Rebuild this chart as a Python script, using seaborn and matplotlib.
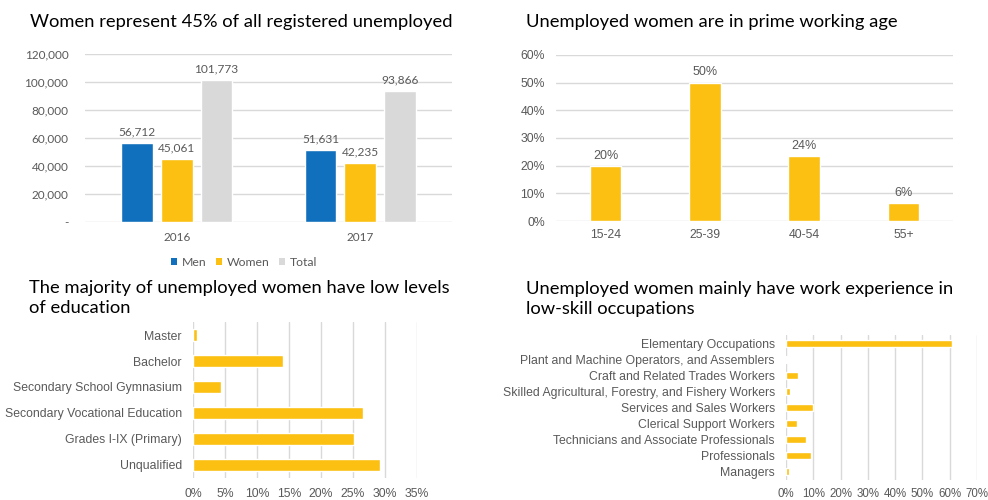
import matplotlib
matplotlib.use("Agg")
import matplotlib.pyplot as plt
import seaborn as sns
import pandas as pd
from matplotlib.patches import Patch
from matplotlib.ticker import FuncFormatter, MultipleLocator

# ---------------- data ----------------
years = ["2016", "2017"]
groups = ["Men", "Women", "Total"]
men = [56712, 51631]
women = [45061, 42235]
total = [101773, 93866]

age_groups = ["15-24", "25-39", "40-54", "55+"]
age_share = [19.9, 50.0, 23.6, 6.4]

edu_levels = ["Master", "Bachelor", "Secondary School Gymnasium",
              "Secondary Vocational Education", "Grades I-IX (Primary)", "Unqualified"]
edu_share = [0.7, 14.0, 4.4, 26.6, 25.1, 29.2]

occupations = ["Elementary Occupations", "Plant and Machine Operators, and Assemblers",
               "Craft and Related Trades Workers",
               "Skilled Agricultural, Forestry, and Fishery Workers",
               "Services and Sales Workers", "Clerical Support Workers",
               "Technicians and Associate Professionals", "Professionals", "Managers"]
occ_share = [60.8, 0.5, 4.5, 1.3, 9.9, 4.1, 7.5, 9.2, 1.2]

# ---------------- style ----------------
sns.set_style("white")
plt.rcParams['font.family'] = ['Liberation Sans', 'DejaVu Sans']
BLUE = "#1170BD"
GOLD = "#FCC012"
GREY = "#D9D9D9"
TXT = "#595959"
GRID = "#D9D9D9"
TITLE_FONT = ['Lato', 'DejaVu Sans']
CAL = ['Lato', 'DejaVu Sans']
TSIZE = 13.2

W, H = 988, 500
fig = plt.figure(figsize=(W / 100, H / 100), dpi=100)

def axes_px(l, t, r, b):
    return fig.add_axes([l / W, 1 - b / H, (r - l) / W, (b - t) / H])

def clean(ax):
    for s in ax.spines.values():
        s.set_visible(False)
    ax.tick_params(length=0, colors=TXT)
    ax.set_xlabel("")
    ax.set_ylabel("")

# ---------------- panel 1 ----------------
ax1 = axes_px(85, 54, 452, 222)
df1 = pd.DataFrame({
    "year": years * 3,
    "group": [g for g in groups for _ in years],
    "value": men + women + total,
})
sns.barplot(data=df1, x="year", y="value", hue="group", hue_order=groups,
            palette=[BLUE, GOLD, GREY], width=0.65, gap=0.2, legend=False,
            ax=ax1, saturation=1, zorder=3)
ax1.set_ylim(0, 120000)
ax1.set_xlim(-0.5, 1.5)
ax1.yaxis.set_major_locator(MultipleLocator(20000))
ax1.yaxis.set_major_formatter(FuncFormatter(lambda v, p: "-" if v == 0 else f"{v:,.0f}"))
ax1.grid(axis="y", color=GRID, lw=1, zorder=0)
clean(ax1)
ax1.tick_params(axis="y", pad=12)
ax1.tick_params(axis="x", pad=7)
for lab in ax1.get_xticklabels() + ax1.get_yticklabels():
    lab.set_family(CAL)
    lab.set_fontsize(8.5)
for c in ax1.containers:
    ax1.bar_label(c, labels=[f"{v:,.0f}" for v in c.datavalues], padding=4,
                  fontsize=8.6, color=TXT, family=CAL)
handles = [Patch(facecolor=c, edgecolor="none") for c in [BLUE, GOLD, GREY]]
fig.legend(handles, groups, loc="center", bbox_to_anchor=(244 / W, 1 - 262 / H),
           ncol=3, frameon=False, handlelength=0.5, handleheight=0.5,
           handletextpad=0.35, columnspacing=0.8, labelcolor=TXT,
           prop={'family': CAL, 'size': 8.8})
fig.text(30 / W, 1 - 22 / H, "Women represent 45% of all registered unemployed",
         fontsize=TSIZE, family=TITLE_FONT, va="center", ha="left", color="#000000")

# ---------------- panel 2 ----------------
ax2 = axes_px(556, 55, 953, 221)
sns.barplot(x=age_groups, y=age_share, color=GOLD, saturation=1, width=0.315,
            ax=ax2, zorder=3)
ax2.set_ylim(0, 60)
ax2.set_xlim(-0.5, 3.5)
ax2.yaxis.set_major_locator(MultipleLocator(10))
ax2.yaxis.set_major_formatter(FuncFormatter(lambda v, p: f"{v:.0f}%"))
ax2.grid(axis="y", color=GRID, lw=1, zorder=0)
clean(ax2)
ax2.tick_params(axis="y", pad=8, labelsize=8.8)
ax2.tick_params(axis="x", pad=6, labelsize=8.8)
ax2.bar_label(ax2.containers[0], labels=[f"{v:.0f}%" for v in age_share],
              padding=3, fontsize=9, color=TXT)
fig.text(526 / W, 1 - 22 / H, "Unemployed women are in prime working age",
         fontsize=TSIZE, family=TITLE_FONT, va="center", ha="left", color="#000000")

# ---------------- panel 3 ----------------
ax3 = axes_px(193, 322, 417, 478)
sns.barplot(x=edu_share, y=edu_levels, orient="h", color=GOLD, saturation=1,
            width=0.44, ax=ax3, zorder=3)
ax3.set_xlim(0, 35)
ax3.set_ylim(5.5, -0.5)
ax3.xaxis.set_major_locator(MultipleLocator(5))
ax3.xaxis.set_major_formatter(FuncFormatter(lambda v, p: f"{v:.0f}%"))
ax3.grid(axis="x", color=GRID, lw=1, zorder=0)
clean(ax3)
ax3.tick_params(axis="y", pad=8, labelsize=8.8)
ax3.tick_params(axis="x", pad=7, labelsize=8.8)
fig.text(29 / W, 1 - 298 / H, "The majority of unemployed women have low levels\nof education",
         fontsize=TSIZE, family=TITLE_FONT, va="center", ha="left", color="#000000",
         linespacing=1.3)

# ---------------- panel 4 ----------------
ax4 = axes_px(786, 335, 977, 480)
sns.barplot(x=occ_share, y=occupations, orient="h", color=GOLD, saturation=1,
            width=0.43, ax=ax4, zorder=3)
ax4.set_xlim(0, 70)
ax4.set_ylim(8.5, -0.5)
ax4.xaxis.set_major_locator(MultipleLocator(10))
ax4.xaxis.set_major_formatter(FuncFormatter(lambda v, p: f"{v:.0f}%"))
ax4.grid(axis="x", color=GRID, lw=1, zorder=0)
clean(ax4)
ax4.tick_params(axis="y", pad=8, labelsize=8.8)
ax4.tick_params(axis="x", pad=6, labelsize=8.3)
fig.text(526 / W, 1 - 299 / H, "Unemployed women mainly have work experience in\nlow-skill occupations",
         fontsize=TSIZE, family=TITLE_FONT, va="center", ha="left", color="#000000",
         linespacing=1.3)

fig.savefig("out.png", dpi=100, facecolor="white")
